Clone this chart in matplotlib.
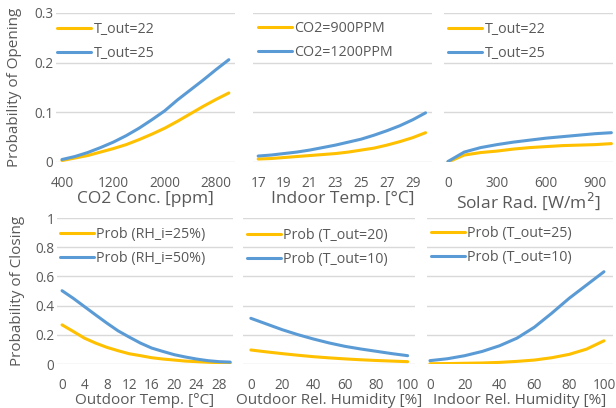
import matplotlib
matplotlib.use("Agg")
import matplotlib.pyplot as plt
from matplotlib.ticker import FuncFormatter

plt.rcParams['font.family'] = ['Open Sans', 'DejaVu Sans']

ORANGE = '#FFC000'
BLUE = '#5B9BD5'
TXT = '#595959'
GRID = '#D9D9D9'

# ---- Top row: probability of opening ----
co2 = [400, 600, 800, 1000, 1200, 1400, 1600, 1800, 2000, 2200, 2400, 2600, 2800, 3000]
open_co2_t22 = [0.003, 0.008, 0.013, 0.020, 0.027, 0.035, 0.045, 0.056, 0.068, 0.082, 0.097, 0.112, 0.126, 0.139]
open_co2_t25 = [0.005, 0.011, 0.019, 0.029, 0.040, 0.053, 0.068, 0.085, 0.103, 0.125, 0.145, 0.165, 0.186, 0.206]

t_in = [17, 18, 19, 20, 21, 22, 23, 24, 25, 26, 27, 28, 29, 30]
open_tin_900 = [0.006, 0.007, 0.009, 0.011, 0.013, 0.015, 0.017, 0.020, 0.024, 0.028, 0.034, 0.041, 0.049, 0.059]
open_tin_1200 = [0.012, 0.014, 0.017, 0.020, 0.024, 0.029, 0.034, 0.040, 0.046, 0.054, 0.063, 0.073, 0.085, 0.099]

solar = [0, 100, 200, 300, 400, 500, 600, 700, 800, 900, 1000]
open_sol_t22 = [0.000, 0.014, 0.019, 0.022, 0.026, 0.029, 0.031, 0.033, 0.034, 0.035, 0.037]
open_sol_t25 = [0.001, 0.020, 0.029, 0.035, 0.040, 0.044, 0.048, 0.051, 0.054, 0.057, 0.059]

# ---- Bottom row: probability of closing ----
t_out = [0, 2, 4, 6, 8, 10, 12, 14, 16, 18, 20, 22, 24, 26, 28, 30]
close_tout_rh25 = [0.268, 0.223, 0.177, 0.143, 0.114, 0.091, 0.070, 0.057, 0.043, 0.034, 0.027, 0.020, 0.016, 0.012, 0.009, 0.007]
close_tout_rh50 = [0.502, 0.450, 0.393, 0.336, 0.280, 0.227, 0.184, 0.143, 0.109, 0.086, 0.064, 0.048, 0.034, 0.023, 0.016, 0.013]

rh_out = [0, 10, 20, 30, 40, 50, 60, 70, 80, 90, 100]
close_rho_t20 = [0.096, 0.083, 0.071, 0.060, 0.050, 0.042, 0.035, 0.029, 0.024, 0.020, 0.016]
close_rho_t10 = [0.313, 0.274, 0.235, 0.201, 0.171, 0.144, 0.121, 0.103, 0.087, 0.071, 0.057]

rh_in = [0, 10, 20, 30, 40, 50, 60, 70, 80, 90, 100]
close_rhi_t25 = [0.002, 0.003, 0.005, 0.007, 0.011, 0.018, 0.027, 0.043, 0.066, 0.102, 0.159]
close_rhi_t10 = [0.023, 0.036, 0.057, 0.086, 0.125, 0.177, 0.252, 0.348, 0.450, 0.541, 0.632]

W, H = 616, 408
fig = plt.figure(figsize=(W / 100, H / 100), dpi=100)


def add_ax(x0, x1, ytop, ybot):
    return fig.add_axes([x0 / W, 1 - ybot / H, (x1 - x0) / W, (ybot - ytop) / H])


fmt = FuncFormatter(lambda v, p: f'{v:g}')

panels = [
    # (axes px, xdata, ys, labels, xlim, xticks, xlabel, ylim, yticks, legend px, xlabel size)
    ((56, 235, 13, 162), co2, (open_co2_t22, open_co2_t25), ('T_out=22', 'T_out=25'),
     (307, 3096), [400, 1200, 2000, 2800], 'CO2 Conc. [ppm]', (0, 0.3), [0, 0.1, 0.2, 0.3], (57, 22), 12.5),
    ((253, 432, 13, 162), t_in, (open_tin_900, open_tin_1200), ('CO2=900PPM', 'CO2=1200PPM'),
     (16.6, 30.5), list(range(17, 30, 2)), 'Indoor Temp. [°C]', (0, 0.3), [0, 0.1, 0.2, 0.3], (258, 21), 12.5),
    ((444, 613, 13, 162), solar, (open_sol_t22, open_sol_t25), ('T_out=22', 'T_out=25'),
     (-24, 1010), [0, 300, 600, 900], 'Solar Rad. [W/m$^2$]', (0, 0.3), [0, 0.1, 0.2, 0.3], (448, 22), 12.5),
    ((57, 233, 218, 364), t_out, (close_tout_rh25, close_tout_rh50), ('Prob (RH_i=25%)', 'Prob (RH_i=50%)'),
     (-0.9, 30.5), list(range(0, 29, 4)), 'Outdoor Temp. [°C]', (0, 1), [0, 0.2, 0.4, 0.6, 0.8, 1], (60, 227), 11),
    ((243, 415, 218, 364), rh_out, (close_rho_t20, close_rho_t10), ('Prob (T_out=20)', 'Prob (T_out=10)'),
     (-5, 104.7), list(range(0, 101, 20)), 'Outdoor Rel. Humidity [%]', (0, 1), [0, 0.2, 0.4, 0.6, 0.8, 1], (247, 228), 11),
    ((427, 613, 218, 364), rh_in, (close_rhi_t25, close_rhi_t10), ('Prob (T_out=25)', 'Prob (T_out=10)'),
     (-1.7, 105.2), list(range(0, 101, 20)), 'Indoor Rel. Humidity [%]', (0, 1), [0, 0.2, 0.4, 0.6, 0.8, 1], (431, 226), 11),
]

for i, (box, xd, ys, labs, xlim, xt, xl, yl, yt, lg, xls) in enumerate(panels):
    x0, x1, yt0, yb0 = box
    ax = add_ax(x0, x1, yt0, yb0)
    for sp in ax.spines.values():
        sp.set_visible(False)
    ax.set_xlim(*xlim)
    ax.set_ylim(*yl)
    ax.set_yticks(yt)
    ax.set_xticks(xt)
    ax.grid(axis='y', color=GRID, lw=1.0)
    ax.set_axisbelow(True)
    ax.tick_params(length=0, colors=TXT, labelsize=9.8)
    ax.tick_params(axis='x', pad=10)
    ax.tick_params(axis='y', pad=2)
    ax.yaxis.set_major_formatter(fmt)
    if i % 3 != 0:
        ax.set_yticklabels([])
    ax.plot(xd, ys[0], color=ORANGE, lw=2.2, label=labs[0], solid_capstyle='round')
    ax.plot(xd, ys[1], color=BLUE, lw=2.2, label=labs[1], solid_capstyle='round')
    ax.set_xlabel(xl, fontsize=xls, color=TXT, labelpad=0)
    ax.legend(loc='upper left', bbox_to_anchor=(lg[0] / W, 1 - lg[1] / H), bbox_transform=fig.transFigure,
              frameon=False, fontsize=10.3, handlelength=2.4, handletextpad=0.15, borderpad=0,
              borderaxespad=0, labelspacing=0.62, labelcolor=TXT)
    if i == 0:
        ax.set_ylabel('Probability of Opening', fontsize=11, color=TXT)
        ax.yaxis.set_label_coords((22 - x0) / (x1 - x0), 0.5)
    if i == 3:
        ax.set_ylabel('Probability of Closing', fontsize=11, color=TXT)
        ax.yaxis.set_label_coords((25 - x0) / (x1 - x0), 0.5)

fig.savefig('out.png', dpi=100)
